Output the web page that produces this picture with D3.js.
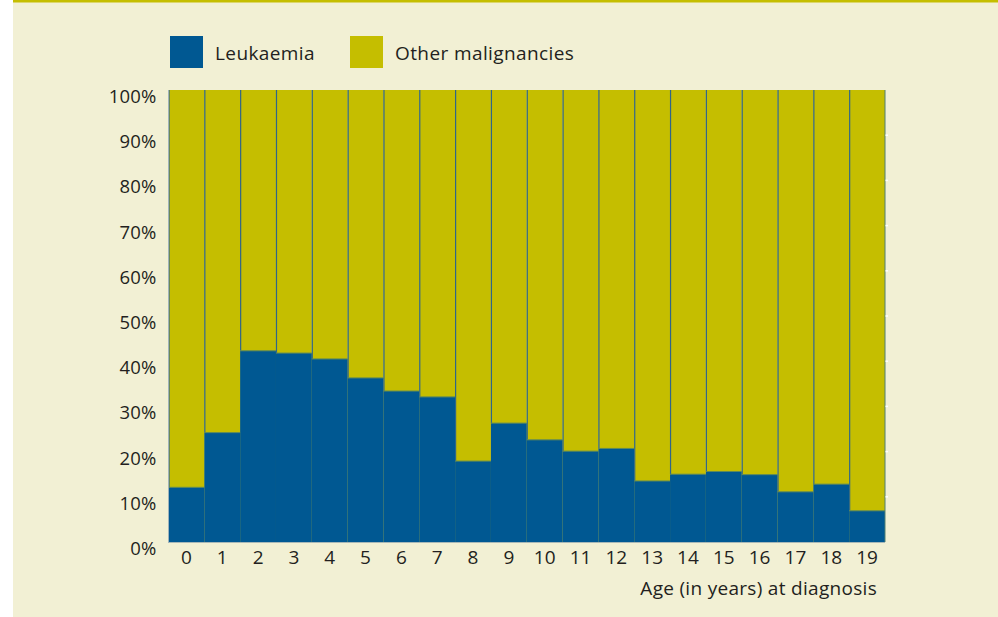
<!DOCTYPE html>
<html>
<head>
<meta charset="utf-8">
<script src="https://cdn.jsdelivr.net/npm/d3@7"></script>
<style>
  html, body { margin: 0; padding: 0; background: #ffffff; }
  svg { display: block; font-family: "Open Sans", sans-serif; }
</style>
</head>
<body>
<svg id="chart" width="998" height="617"></svg>
<script>
// Ages at diagnosis (x categories)
const ages = ["0","1","2","3","4","5","6","7","8","9","10","11","12","13","14","15","16","17","18","19"];

// Share of leukaemia among all malignancies, in percent
const leukaemia = [12.1, 24.2, 42.3, 41.8, 40.5, 36.3, 33.4, 32.1, 17.9, 26.3,
                   22.6, 20.1, 20.7, 13.5, 15.0, 15.6, 14.9, 11.1, 12.8, 6.9];

// Y axis ticks
const yTicks = [0, 10, 20, 30, 40, 50, 60, 70, 80, 90, 100];

const seriesNames = ["Leukaemia", "Other malignancies"];
const blue = "#005892";
const yellow = "#c5be00";

const svg = d3.select("#chart");

// Background panel with the yellow rule at the top
svg.append("rect")
  .attr("x", 13).attr("y", 0)
  .attr("width", 985).attr("height", 617)
  .attr("fill", "#f2f0d4");
svg.append("rect")
  .attr("x", 13).attr("y", 0)
  .attr("width", 985).attr("height", 2.5)
  .attr("fill", "#c5be00");

// Plot area
const margin = { top: 90, left: 168.5, right: 885, bottom: 542 };

const x = d3.scaleBand()
  .domain(ages)
  .range([margin.left, margin.right])
  .padding(0);

const y = d3.scaleLinear()
  .domain([0, 100])
  .range([margin.bottom, margin.top]);

const rows = ages.map((a, i) => ({ age: a, leuk: leukaemia[i] }));

// Other malignancies: full bar, leukaemia drawn on top from the bottom
const bars = svg.append("g").attr("class", "bars");

bars.selectAll(".other")
  .data(rows)
  .enter()
  .append("rect")
  .attr("class", "other")
  .attr("x", d => x(d.age))
  .attr("y", y(100))
  .attr("width", x.bandwidth())
  .attr("height", y(0) - y(100))
  .attr("fill", yellow);

bars.selectAll(".leuk")
  .data(rows)
  .enter()
  .append("rect")
  .attr("class", "leuk")
  .attr("x", d => x(d.age))
  .attr("y", d => y(d.leuk))
  .attr("width", x.bandwidth())
  .attr("height", d => y(0) - y(d.leuk))
  .attr("fill", blue);

// Thin separators between the yellow parts of the bars
bars.selectAll(".sep")
  .data(rows)
  .enter()
  .append("line")
  .attr("class", "sep")
  .attr("x1", d => x(d.age) + 0.5)
  .attr("x2", d => x(d.age) + 0.5)
  .attr("y1", y(100))
  .attr("y2", d => y(d.leuk))
  .attr("stroke", "#2f6688")
  .attr("stroke-width", 1.2);

// Edge on top of the leukaemia parts where it meets yellow
bars.selectAll(".edge")
  .data(rows)
  .enter()
  .append("line")
  .attr("class", "edge")
  .attr("x1", d => x(d.age))
  .attr("x2", d => x(d.age) + x.bandwidth())
  .attr("y1", d => y(d.leuk))
  .attr("y2", d => y(d.leuk))
  .attr("stroke", "#5f8a5a")
  .attr("stroke-width", 1);

// Right edge of the last bar
svg.append("line")
  .attr("x1", margin.right).attr("x2", margin.right)
  .attr("y1", y(100)).attr("y2", y(0))
  .attr("stroke", "#4f7f72").attr("stroke-width", 1);

// Small white ticks on the right side
svg.append("g")
  .selectAll("line")
  .data(yTicks.filter(t => t > 0 && t < 100))
  .enter()
  .append("line")
  .attr("x1", margin.right + 0.5).attr("x2", margin.right + 3)
  .attr("y1", d => y(d)).attr("y2", d => y(d))
  .attr("stroke", "#ffffff").attr("stroke-width", 1.5);

// Left axis line and bottom axis line
svg.append("line")
  .attr("x1", margin.left).attr("x2", margin.left)
  .attr("y1", y(100)).attr("y2", y(0) + 1)
  .attr("stroke", "#9fb3bb").attr("stroke-width", 1);
svg.append("line")
  .attr("x1", margin.left).attr("x2", margin.right)
  .attr("y1", y(0) + 0.5).attr("y2", y(0) + 0.5)
  .attr("stroke", "#a8b8b8").attr("stroke-width", 1);

// Y axis labels
const yAxis = d3.axisLeft(y)
  .tickValues(yTicks)
  .tickFormat(d => d + "%")
  .tickSize(0)
  .tickPadding(12);

svg.append("g")
  .attr("transform", `translate(${margin.left},6.5)`)
  .call(yAxis)
  .call(g => g.select(".domain").remove())
  .call(g => g.selectAll("text")
    .attr("fill", "#231f20")
    .style("font-size", "18.5px")
    .style("letter-spacing", "0.2px")
    .style("font-family", "'Open Sans', sans-serif"));

// X axis labels
const xAxis = d3.axisBottom(x)
  .tickSize(0)
  .tickPadding(9);

svg.append("g")
  .attr("transform", `translate(0,${y(0)})`)
  .call(xAxis)
  .call(g => g.select(".domain").remove())
  .call(g => g.selectAll("text")
    .attr("fill", "#231f20")
    .style("font-size", "19px")
    .style("font-family", "'Open Sans', sans-serif"));

// X axis title
svg.append("text")
  .attr("x", 877)
  .attr("y", 595)
  .attr("text-anchor", "end")
  .attr("fill", "#231f20")
  .style("font-size", "19px")
  .style("letter-spacing", "0.3px")
  .text("Age (in years) at diagnosis");

// Legend
const legend = svg.append("g").attr("class", "legend");
const legendX = [170, 350];
const legendColors = [blue, yellow];

seriesNames.forEach((name, i) => {
  legend.append("rect")
    .attr("x", legendX[i])
    .attr("y", 36)
    .attr("width", 33)
    .attr("height", 32)
    .attr("fill", legendColors[i]);
  legend.append("text")
    .attr("x", legendX[i] + 45)
    .attr("y", 53)
    .attr("dominant-baseline", "central")
    .attr("fill", "#231f20")
    .style("font-size", "19px")
    .style("letter-spacing", "0.4px")
    .text(name);
});
</script>
</body>
</html>
